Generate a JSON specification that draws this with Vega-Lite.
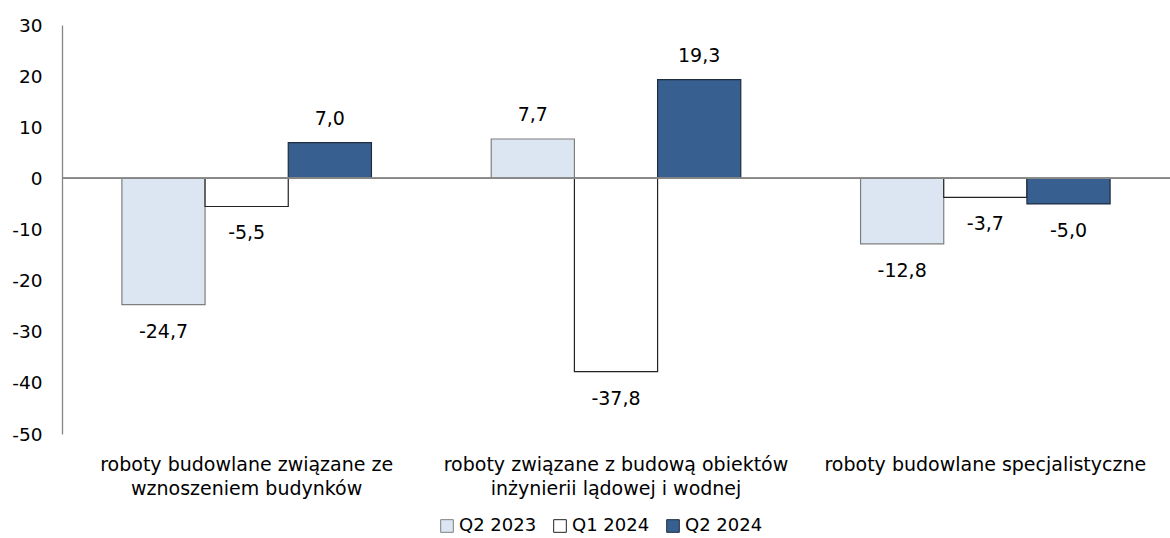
{
  "$schema": "https://vega.github.io/schema/vega-lite/v6.json",
  "width": 1108,
  "height": 409,
  "autosize": {"type": "none"},
  "padding": {"left": 62, "top": 25, "right": 0, "bottom": 104},
  "background": "white",
  "config": {
    "locale": {"number": {"decimal": ",", "thousands": " ", "grouping": [3], "currency": ["", ""], "minus": "-"}},
    "view": {"stroke": null},
    "font": "DejaVu Sans",
    "axis": {"labelFont": "DejaVu Sans", "labelColor": "#000000", "labelFontSize": 18.5, "grid": false},
    "legend": {"labelFont": "DejaVu Sans", "labelFontSize": 18, "labelColor": "#000000"}
  },
  "data": {
    "values": [
      {"category": "roboty budowlane związane ze\nwznoszeniem budynków", "series": "Q2 2023", "value": -24.7},
      {"category": "roboty budowlane związane ze\nwznoszeniem budynków", "series": "Q1 2024", "value": -5.5},
      {"category": "roboty budowlane związane ze\nwznoszeniem budynków", "series": "Q2 2024", "value": 7.0},
      {"category": "roboty związane z budową obiektów\ninżynierii lądowej i wodnej", "series": "Q2 2023", "value": 7.7},
      {"category": "roboty związane z budową obiektów\ninżynierii lądowej i wodnej", "series": "Q1 2024", "value": -37.8},
      {"category": "roboty związane z budową obiektów\ninżynierii lądowej i wodnej", "series": "Q2 2024", "value": 19.3},
      {"category": "roboty budowlane specjalistyczne", "series": "Q2 2023", "value": -12.8},
      {"category": "roboty budowlane specjalistyczne", "series": "Q1 2024", "value": -3.7},
      {"category": "roboty budowlane specjalistyczne", "series": "Q2 2024", "value": -5.0}
    ]
  },
  "encoding": {
    "x": {
      "field": "category", "type": "nominal", "sort": null,
      "scale": {"paddingInner": 0, "paddingOuter": 0},
      "axis": {"title": null, "domain": false, "ticks": false, "labelAngle": 0, "labelPadding": 21, "labelLineHeight": 24, "labelLimit": 0, "labelFontSize": 19, "labelExpr": "split(datum.label, '\\n')", "labelBaseline": "top"}
    },
    "xOffset": {"field": "series", "type": "nominal", "sort": ["Q2 2023", "Q1 2024", "Q2 2024"], "scale": {"paddingInner": 0, "paddingOuter": 0.72}}
  },
  "layer": [
    {
      "mark": {"type": "bar", "strokeWidth": 1.2},
      "encoding": {
        "y": {
          "field": "value", "type": "quantitative",
          "scale": {"domain": [-50, 30], "nice": false},
          "axis": {"title": null, "values": [-50, -40, -30, -20, -10, 0, 10, 20, 30], "ticks": false, "labelPadding": 20, "domainColor": "#868686", "domainWidth": 1.3, "format": "d"}
        },
        "fill": {
          "field": "series", "type": "nominal",
          "scale": {"domain": ["Q2 2023", "Q1 2024", "Q2 2024"], "range": ["#dce6f2", "#ffffff", "#375f8f"]},
          "legend": {"title": null, "orient": "none", "direction": "horizontal", "legendX": 376, "legendY": 492, "symbolType": "square", "symbolSize": 160, "symbolStrokeColor": "#404040", "symbolStrokeWidth": 1, "columnPadding": 14, "labelOffset": 3}
        },
        "stroke": {
          "field": "series", "type": "nominal",
          "scale": {"domain": ["Q2 2023", "Q1 2024", "Q2 2024"], "range": ["#7f7f7f", "#222222", "#1f2d40"]},
          "legend": null
        }
      }
    },
    {
      "mark": {"type": "rule", "color": "#868686", "strokeWidth": 1.3},
      "encoding": {"y": {"datum": 0, "type": "quantitative"}, "x": null, "xOffset": null}
    },
    {
      "transform": [{"filter": "datum.value >= 0"}],
      "mark": {"type": "text", "fontSize": 19, "dy": -24, "baseline": "middle", "color": "#000000"},
      "encoding": {
        "y": {"field": "value", "type": "quantitative"},
        "text": {"field": "value", "type": "quantitative", "format": ".1f"}
      }
    },
    {
      "transform": [{"filter": "datum.value < 0"}],
      "mark": {"type": "text", "fontSize": 19, "dy": 27, "baseline": "middle", "color": "#000000"},
      "encoding": {
        "y": {"field": "value", "type": "quantitative"},
        "text": {"field": "value", "type": "quantitative", "format": ".1f"}
      }
    }
  ]
}
